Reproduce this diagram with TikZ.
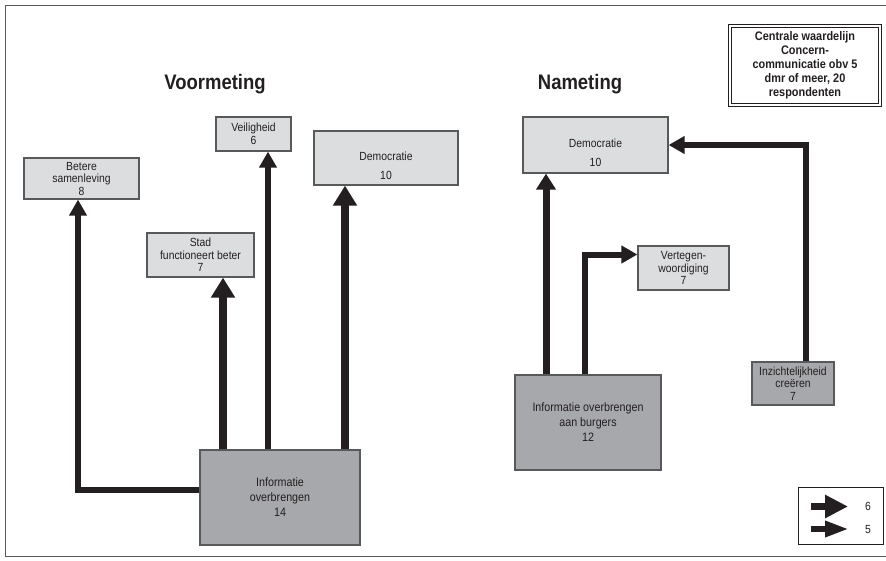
\documentclass[tikz,border=0pt]{standalone}
\usepackage{fontspec}
% narrow setting of Liberation Sans for the condensed look of the labels
\setmainfont{Liberation Sans}[FakeStretch=0.88]
\usetikzlibrary{arrows.meta}

\definecolor{boxlight}{HTML}{DCDDDF}
\definecolor{boxdark}{HTML}{A7A8AB}
\definecolor{ink}{HTML}{231F20}
\definecolor{rim}{HTML}{58595B}

\begin{document}
\begin{tikzpicture}[x=1pt,y=-1pt,
  lightbox/.style={draw=rim, line width=1.2pt, fill=boxlight, inner sep=0pt,
    align=center, text=ink, font=\fontsize{11.8}{12.5}\selectfont},
  darkbox/.style={lightbox, fill=boxdark, font=\fontsize{12.2}{15}\selectfont},
  boxtext/.style={inner sep=0pt, align=center, text=ink, font=\fontsize{11.8}{12.5}\selectfont},
  heading/.style={anchor=base, text=ink, font=\fontsize{21}{22}\selectfont\bfseries},
  heavyarrow/.style={draw=ink, line width=8pt, -{Triangle[width=23pt,length=20pt]}},
  midarrow/.style={draw=ink, line width=7pt, -{Triangle[width=19pt,length=16pt]}},
  lightarrow/.style={draw=ink, line width=6pt, -{Triangle[width=17pt,length=16pt]}},
]
\useasboundingbox (0,0) rectangle (886,560);

% frame
\draw[rim, line width=1pt] (886,5) -- (5,5) -- (5,556) -- (886,556);

% headings
\node[heading] (tvoor) at (215,89) {Voormeting};
\node[heading] (tna) at (580,89) {Nameting};

% caption box with double border
\node[draw=ink, line width=1pt, double=white, double distance=2pt, fill=white,
  minimum width=150pt, minimum height=79pt, align=center, text=ink,
  font=\fontsize{12.4}{14}\selectfont\bfseries] (caption) at (805,65)
  {Centrale waardelijn\\Concern-\\communicatie obv 5\\dmr of meer, 20\\respondenten};

% ---- Voormeting ----
\node[lightbox, minimum width=115pt, minimum height=41pt] (betere) at (81.5,178.5)
  {Betere\\samenleving\\8};
\node[lightbox, minimum width=75pt, minimum height=34pt] (veilig) at (253.5,134)
  {Veiligheid\\6};
\node[lightbox, minimum width=144pt, minimum height=54pt] (demo1) at (386,158) {};
\node[boxtext] (demo1t) at (386,166) {Democratie\\[6pt]10};
\node[lightbox, minimum width=107pt, minimum height=44pt] (stad) at (200.5,255)
  {Stad\\functioneert beter\\7};
\node[darkbox, minimum width=160pt, minimum height=95pt] (info1) at (280,497.5)
  {Informatie\\overbrengen\\14};

\coordinate (kbet) at (78,490);
\coordinate (kstad) at (223,0);
\coordinate (kveil) at (268,0);
\coordinate (kdem1) at (345,0);

\draw[lightarrow] (info1.west |- kbet) -| (betere.south -| kbet);
\draw[heavyarrow] (info1.north -| kstad) -- (stad.south -| kstad);
\draw[lightarrow] (info1.north -| kveil) -- (veilig.south -| kveil);
\draw[heavyarrow] (info1.north -| kdem1) -- (demo1.south -| kdem1);

% ---- Nameting ----
\node[lightbox, minimum width=145pt, minimum height=56pt] (demo2) at (595.5,145) {};
\node[boxtext] (demo2t) at (595.5,153) {Democratie\\[6pt]10};
\node[lightbox, minimum width=91pt, minimum height=44pt] (verteg) at (683.5,268)
  {Vertegen-\\woordiging\\7};
\node[darkbox, minimum width=146pt, minimum height=95pt] (info2) at (588,422.5)
  {Informatie overbrengen\\aan burgers\\12};
\node[darkbox, font=\fontsize{11.8}{12.5}\selectfont,
  minimum width=82pt, minimum height=43pt] (inzicht) at (793,383.5)
  {Inzichtelijkheid\\creëren\\7};

\coordinate (kdem2) at (546,0);
\coordinate (kvert) at (585,254.5);
\coordinate (kinz) at (806,0);

\draw[midarrow] (info2.north -| kdem2) -- (demo2.south -| kdem2);
\draw[lightarrow] (info2.north -| kvert) |- (verteg.west |- kvert);
\draw[lightarrow] (inzicht.north -| kinz) |- (demo2.east);

% ---- key ----
\node[draw=ink, line width=1pt, minimum width=85pt, minimum height=57pt] (key) at (840.5,515.5) {};
\coordinate (k6a) at (811,506.5);
\coordinate (k6b) at (848,506.5);
\coordinate (k5a) at (811,529);
\coordinate (k5b) at (849,529);
\draw[draw=ink, line width=7pt, -{Triangle[width=22pt,length=23pt]}] (k6a) -- (k6b);
\draw[draw=ink, line width=6pt, -{Triangle[width=15pt,length=24pt]}] (k5a) -- (k5b);
\node[boxtext] (key6) at (868,506.5) {6};
\node[boxtext] (key5) at (868,529) {5};

\end{tikzpicture}
\end{document}
